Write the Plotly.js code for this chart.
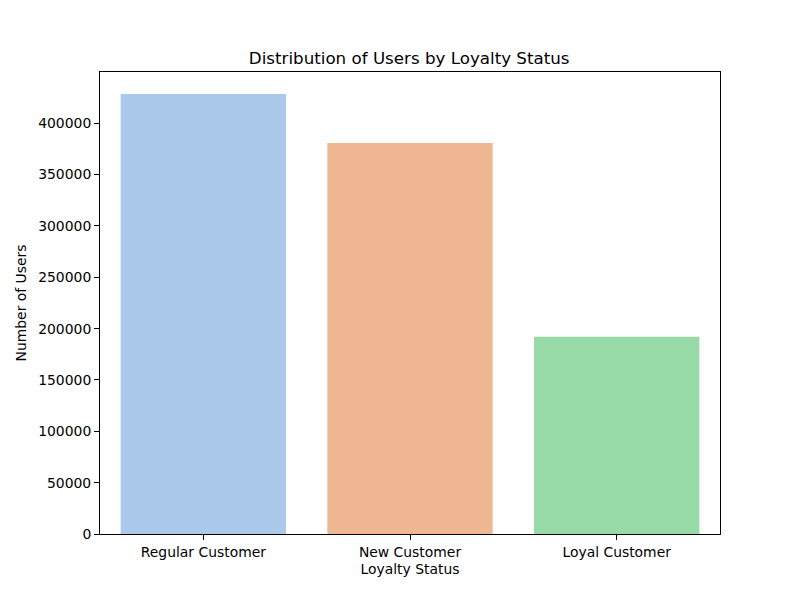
<!DOCTYPE html>
<html>
<head>
<meta charset="utf-8">
<script src="https://cdn.plot.ly/plotly-3.0.1.min.js"></script>
<style>html,body{margin:0;padding:0;background:#fff;}#chart{width:800px;height:600px;}</style>
</head>
<body>
<div id="chart"></div>
<script>
const categories = ["Regular Customer", "New Customer", "Loyal Customer"];
const userCounts = [428500, 380800, 192000];
const barColors = ["#abc9ea", "#efb792", "#98daa7"];
const yTickValues = [0, 50000, 100000, 150000, 200000, 250000, 300000, 350000, 400000];

const trace = {
  type: "bar",
  x: categories,
  y: userCounts,
  marker: { color: barColors, line: { width: 0 } },
  width: 0.8,
  hoverinfo: "x+y"
};

const axisCommon = {
  showline: true, mirror: true, linecolor: "#000", linewidth: 1,
  ticks: "outside", ticklen: 5, tickwidth: 1, tickcolor: "#000",
  showgrid: false, zeroline: false,
  tickfont: { family: "DejaVu Sans", size: 13.9, color: "#000" }
};

const layout = {
  width: 800, height: 600,
  margin: { l: 100, r: 80, t: 72, b: 66 },
  paper_bgcolor: "#fff", plot_bgcolor: "#fff",
  font: { family: "DejaVu Sans", color: "#000" },
  title: { text: "Distribution of Users by Loyalty Status", x: 0.5115, xanchor: "center", y: 0.903, yanchor: "middle",
           font: { family: "DejaVu Sans", size: 16.7, color: "#000" } },
  xaxis: Object.assign({}, axisCommon, {
    range: [-0.5, 2.5],
    tickfont: { family: "DejaVu Sans", size: 13.9, color: "#000" },
    title: { text: "Loyalty Status", font: { family: "DejaVu Sans", size: 13.9, color: "#000" }, standoff: 5 }
  }),
  yaxis: Object.assign({}, axisCommon, {
    range: [0, 449925],
    tickvals: yTickValues,
    ticktext: yTickValues.map(String),
    title: { text: "Number of Users", font: { family: "DejaVu Sans", size: 13.9, color: "#000" }, standoff: 8 }
  }),
  showlegend: false
};

Plotly.newPlot("chart", [trace], layout, { displayModeBar: false, staticPlot: true });
</script>
</body>
</html>
